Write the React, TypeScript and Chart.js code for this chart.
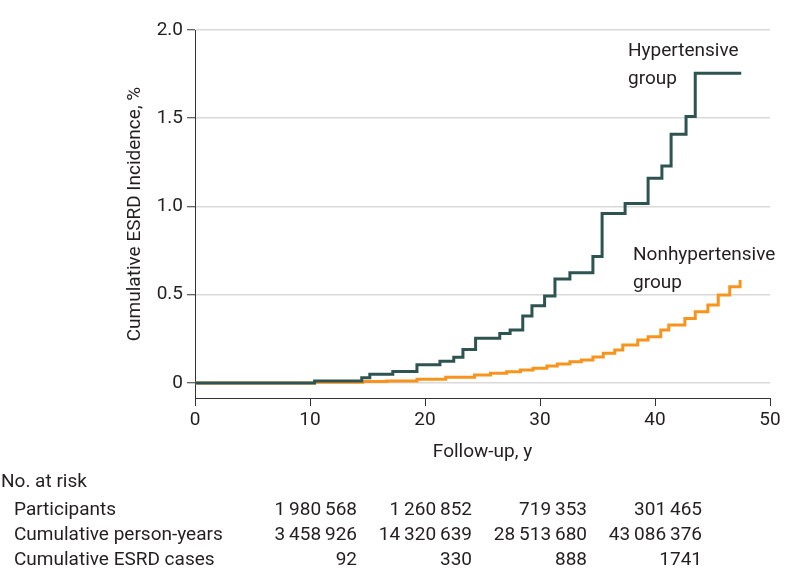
import React, { useEffect, useRef } from 'react';
import { Chart, registerables } from 'chart.js';

Chart.register(...registerables);

// Hypertensive group: follow-up time (y) at which cumulative incidence (%) steps up
const hyperTimes = [0, 10.4, 14.5, 15.2, 17.2, 19.3, 21.3, 22.5, 23.3, 24.4, 26.5, 27.4, 28.5, 29.3, 30.4, 31.3, 32.6, 34.6, 35.4, 37.4, 39.4, 40.6, 41.4, 42.7, 43.5, 47.5];
const hyperValues = [0, 0.012, 0.03, 0.05, 0.065, 0.103, 0.123, 0.146, 0.19, 0.253, 0.281, 0.3, 0.38, 0.438, 0.493, 0.589, 0.625, 0.716, 0.96, 1.017, 1.16, 1.23, 1.41, 1.51, 1.755, 1.755];

// Nonhypertensive group
const nonTimes = [0, 10.4, 14.6, 16.7, 19.3, 21.8, 24.3, 25.7, 27.1, 28.3, 29.4, 30.6, 31.5, 32.6, 33.6, 34.6, 35.5, 36.5, 37.2, 38.5, 39.4, 40.5, 41.2, 42.6, 43.5, 44.6, 45.5, 46.5, 47.4];
const nonValues = [0, 0.004, 0.008, 0.012, 0.021, 0.032, 0.045, 0.055, 0.064, 0.074, 0.083, 0.096, 0.108, 0.121, 0.13, 0.147, 0.168, 0.187, 0.215, 0.244, 0.262, 0.3, 0.329, 0.366, 0.404, 0.442, 0.499, 0.546, 0.584];

const xTicks = [0, 10, 20, 30, 40, 50];
const yTicks = [0, 0.5, 1, 1.5, 2];

// Number-at-risk table
const riskTimes = [10, 20, 30, 40];
const riskRowLabels = ['Participants', 'Cumulative person-years', 'Cumulative ESRD cases'];
const participants = [1980568, 1260852, 719353, 301465];
const personYears = [3458926, 14320639, 28513680, 43086376];
const esrdCases = [92, 330, 888, 1741];

const FONT = 'Roboto, "Liberation Sans", sans-serif';
const TEXT = '#231f20';
const DARK = '#2e5451';
const ORANGE = '#f7941d';
const AXIS = '#333333';
const GRID = '#d9d9d9';

function fmt(n: number): string {
  if (n < 10000) return String(n);
  return String(n).replace(/\B(?=(\d{3})+(?!\d))/g, '\u2009');
}

const textPlugin = {
  id: 'textPlugin',
  afterDraw(chart: any) {
    const { ctx, chartArea, scales } = chart;
    const xs = scales.x;
    ctx.save();
    ctx.fillStyle = TEXT;
    ctx.font = `19px ${FONT}`;
    ctx.textBaseline = 'middle';

    // y-axis title
    ctx.save();
    ctx.translate(135, (chartArea.top + chartArea.bottom) / 2);
    ctx.rotate(-Math.PI / 2);
    ctx.textAlign = 'center';
    ctx.fillText('Cumulative ESRD Incidence, %', 0, 0);
    ctx.restore();

    // x-axis title
    ctx.textAlign = 'center';
    ctx.fillText('Follow-up, y', (chartArea.left + chartArea.right) / 2, 452);

    // group labels
    ctx.textAlign = 'left';
    ctx.fillText('Hypertensive', 628, 51);
    ctx.fillText('group', 628, 79);
    ctx.fillText('Nonhypertensive', 633, 255);
    ctx.fillText('group', 633, 283);

    // table
    ctx.fillText('No. at risk', 1, 482);
    const rows = [participants, personYears, esrdCases];
    const rowY = [510, 535, 560];
    rows.forEach((vals, r) => {
      ctx.textAlign = 'left';
      ctx.fillText(riskRowLabels[r], 14, rowY[r]);
      ctx.textAlign = 'right';
      vals.forEach((v, i) => {
        ctx.fillText(fmt(v), xs.getPixelForValue(riskTimes[i]) + 47, rowY[r]);
      });
    });
    ctx.restore();
  },
};

export default function App() {
  const ref = useRef<HTMLCanvasElement>(null);
  useEffect(() => {
    const chart = new Chart(ref.current as HTMLCanvasElement, {
      type: 'line',
      data: {
        datasets: [
          {
            label: 'Hypertensive group',
            data: hyperTimes.map((t, i) => ({ x: t, y: hyperValues[i] })),
            borderColor: DARK,
            borderWidth: 3,
            pointRadius: 0,
            stepped: 'before',
            fill: false,
          },
          {
            label: 'Nonhypertensive group',
            data: nonTimes.map((t, i) => ({ x: t, y: nonValues[i] })),
            borderColor: ORANGE,
            borderWidth: 3,
            pointRadius: 0,
            stepped: 'before',
            fill: false,
          },
        ],
      },
      options: {
        responsive: false,
        animation: false,
        devicePixelRatio: 1,
        layout: { padding: { left: 0, right: 28, top: 30, bottom: 0 } },
        plugins: { legend: { display: false }, tooltip: { enabled: false } },
        scales: {
          x: {
            type: 'linear',
            min: 0,
            max: 50,
            afterFit: (s: any) => { s.height = 190; },
            afterBuildTicks: (s: any) => { s.ticks = xTicks.map((v) => ({ value: v })); },
            grid: { drawOnChartArea: false, drawTicks: true, tickLength: 8, tickColor: AXIS, tickWidth: 1 },
            border: { display: true, color: AXIS, width: 1 },
            ticks: { font: { family: FONT, size: 19 }, color: TEXT, padding: 3, maxRotation: 0, autoSkip: false },
          },
          y: {
            type: 'linear',
            min: -0.085,
            max: 2,
            afterFit: (s: any) => { s.width = 195; },
            afterBuildTicks: (s: any) => { s.ticks = yTicks.map((v) => ({ value: v })); },
            grid: { color: GRID, lineWidth: 1.5, drawTicks: true, tickLength: 8, tickColor: AXIS, tickWidth: 1 },
            border: { display: true, color: AXIS, width: 1 },
            ticks: {
              font: { family: FONT, size: 19 },
              color: TEXT,
              padding: 4,
              autoSkip: false,
              callback: (v: any) => (Number(v) === 0 ? '0' : Number(v).toFixed(1)),
            },
          },
        },
      },
      plugins: [textPlugin],
    } as any);
    return () => chart.destroy();
  }, []);
  return (
    <div style={{ position: 'absolute', left: 0, top: 0, width: 798, height: 588, background: '#fff' }}>
      <canvas ref={ref} width={798} height={588} style={{ display: 'block' }} />
    </div>
  );
}
